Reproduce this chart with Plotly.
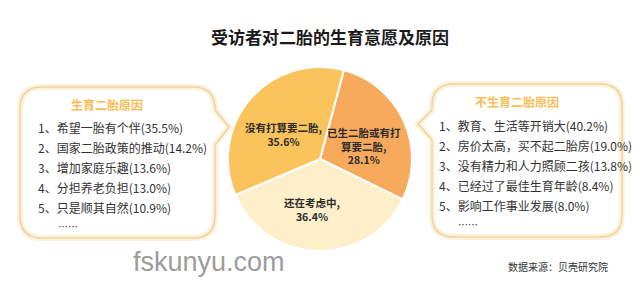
import math
import plotly.graph_objects as go

# Pie: second-child intentions
slice_names = ["已生二胎或有打<br>算要二胎,", "还在考虑中,", "没有打算要二胎,"]
slice_values = [28.1, 36.4, 35.6]
slice_colors = ["#F8AA5C", "#FEEFCB", "#FAC35B"]

# Reasons lists
yes_title = "生育二胎原因"
yes_reasons = ["希望一胎有个伴", "国家二胎政策的推动", "增加家庭乐趣", "分担养老负担", "只是顺其自然"]
yes_shares = [35.5, 14.2, 13.6, 13.0, 10.9]

no_title = "不生育二胎原因"
no_reasons = ["教育、生活等开销大", "房价太高，买不起二胎房", "没有精力和人力照顾二孩",
              "已经过了最佳生育年龄", "影响工作事业发展"]
no_shares = [40.2, 19.0, 13.8, 8.4, 8.0]

title_text = "受访者对二胎的生育意愿及原因"
source_text = "数据来源：贝壳研究院"
site_text = "fskunyu.com"

W, H = 640, 285
CJK = "Noto Sans CJK SC"

fig = go.Figure()

# invisible trace so the pixel-space axes exist for shapes/annotations
fig.add_trace(go.Scatter(x=[0, W], y=[0, H], mode="markers",
                         marker=dict(opacity=0), hoverinfo="skip", showlegend=False))

cx, cy, r = 320, 159, 92
start_deg = 15
fig.add_trace(go.Pie(
    labels=slice_names, values=slice_values, sort=False, direction="clockwise",
    rotation=start_deg,
    marker=dict(colors=slice_colors, line=dict(color="white", width=2)),
    textinfo="none",
    domain=dict(x=[(cx - r) / W, (cx + r) / W], y=[(H - cy - r) / H, (H - cy + r) / H]),
    showlegend=False, hoverinfo="skip",
))

ann = []

# slice labels placed near each slice's mid-angle (radius, angular nudge in degrees)
total = sum(slice_values)
acc = 0.0
label_place = [(46, 8), (51, 8), (44, -7)]
for name, v, (tr, nudge) in zip(slice_names, slice_values, label_place):
    mid = math.radians(start_deg + 360 * (acc + v / 2) / total + nudge)
    acc += v
    ann.append(dict(x=cx + tr * math.sin(mid), y=cy - tr * math.cos(mid),
                    text=f"<b>{name}<br>{v:.1f}%</b>", showarrow=False,
                    font=dict(family=CJK, size=10.5, color="#2b2b2b")))


def bubble(x0, y0, x1, y1, rad, side, py0, ptip, py1, tipx):
    """Rounded box with a triangular pointer on the given side."""
    p = [f"M {x0 + rad},{y0}", f"L {x1 - rad},{y0}", f"Q {x1},{y0} {x1},{y0 + rad}"]
    if side == "right":
        p += [f"L {x1},{py0}", f"L {tipx},{ptip}", f"L {x1},{py1}"]
    p += [f"L {x1},{y1 - rad}", f"Q {x1},{y1} {x1 - rad},{y1}",
          f"L {x0 + rad},{y1}", f"Q {x0},{y1} {x0},{y1 - rad}"]
    if side == "left":
        p += [f"L {x0},{py1}", f"L {tipx},{ptip}", f"L {x0},{py0}"]
    p += [f"L {x0},{y0 + rad}", f"Q {x0},{y0} {x0 + rad},{y0}", "Z"]
    return " ".join(p)


left_path = bubble(20, 87, 215, 238, 22, "right", 110, 127, 145, 229)
right_path = bubble(432, 84, 622, 237, 22, "left", 110, 124, 140, 418)
for path in (left_path, right_path):
    fig.add_shape(type="path", path=path, xref="x", yref="y",
                  line=dict(color="#FCF1DC", width=6), fillcolor="white", layer="below")
    fig.add_shape(type="path", path=path, xref="x", yref="y",
                  line=dict(color="#EFD39C", width=1.5), fillcolor="rgba(0,0,0,0)", layer="below")

ann.append(dict(x=330, y=36, text=f"<b>{title_text}</b>", showarrow=False,
                font=dict(family=CJK, size=17, color="#1a1a1a")))

ann.append(dict(x=107, y=104, text=f"<b>{yes_title}</b>", showarrow=False,
                font=dict(family=CJK, size=12, color="#F8BE55")))
for i, (name, v) in enumerate(zip(yes_reasons, yes_shares)):
    ann.append(dict(x=36, y=127 + 20.2 * i, text=f"{i + 1}、{name}({v:.1f}%)", showarrow=False,
                    xanchor="left", font=dict(family=CJK, size=12, color="#333333")))
ann.append(dict(x=56, y=226, text="……", showarrow=False, xanchor="left",
                font=dict(family=CJK, size=10, color="#333333")))

ann.append(dict(x=517, y=101, text=f"<b>{no_title}</b>", showarrow=False,
                font=dict(family=CJK, size=12, color="#F8BE55")))
for i, (name, v) in enumerate(zip(no_reasons, no_shares)):
    ann.append(dict(x=437, y=125 + 20 * i, text=f"{i + 1}、{name}({v:.1f}%)", showarrow=False,
                    xanchor="left", font=dict(family=CJK, size=12, color="#333333")))
ann.append(dict(x=456, y=224, text="……", showarrow=False, xanchor="left",
                font=dict(family=CJK, size=10, color="#333333")))

ann.append(dict(x=610, y=266, text=source_text, showarrow=False, xanchor="right",
                font=dict(family=CJK, size=10, color="#333333")))
ann.append(dict(x=131, y=262, text=site_text, showarrow=False, xanchor="left",
                font=dict(family="Liberation Sans", size=27, color="#9C9C9C")))

for a in ann:
    a.setdefault("xref", "x")
    a.setdefault("yref", "y")

fig.update_layout(
    width=W, height=H, margin=dict(l=0, r=0, t=0, b=0),
    paper_bgcolor="white", plot_bgcolor="white",
    xaxis=dict(range=[0, W], visible=False, fixedrange=True),
    yaxis=dict(range=[H, 0], visible=False, fixedrange=True),
    annotations=ann,
)

fig.write_html("out.html")
